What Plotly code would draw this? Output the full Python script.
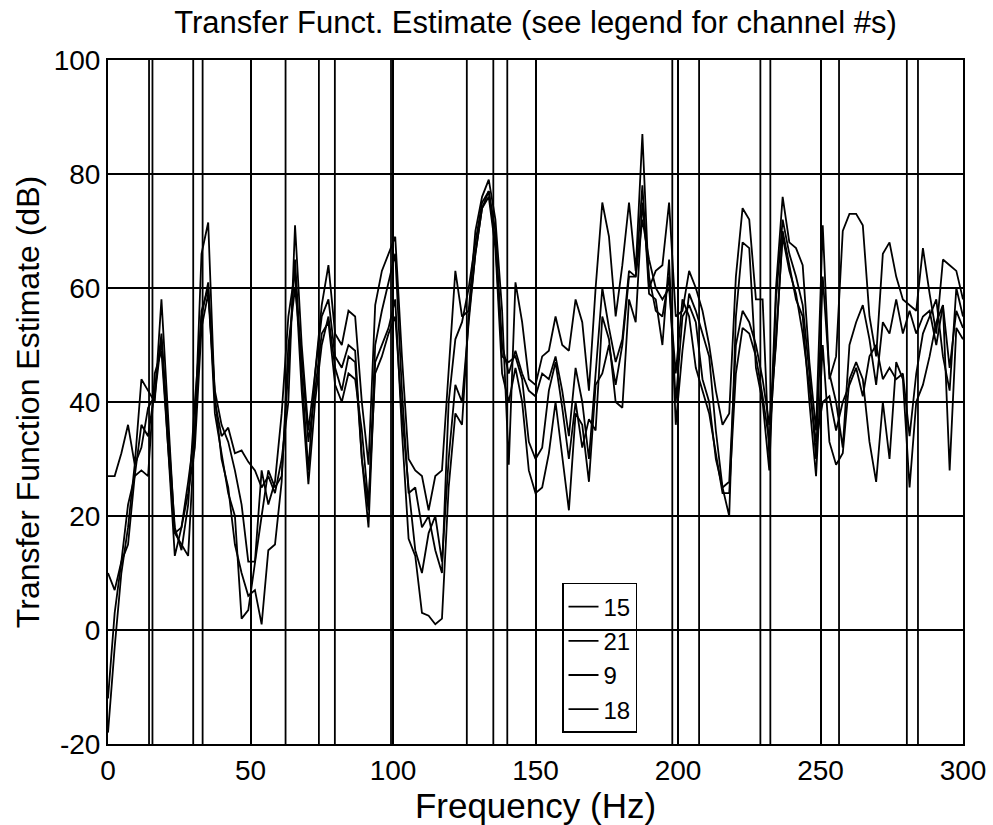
import plotly.graph_objects as go

# ---------------- data ----------------
FREQ_STEP = 2.34375          # Hz between spectral lines
N_POINTS = 129               # 0 .. 300 Hz
channels = ["15", "21", "9", "18"]

ch15 = [27, 27, 31, 36, 29, 44, 42, 40, 58, 38,
        17, 15, 13, 35, 66, 71.5, 40, 34, 35.5, 31,
        31.5, 29.5, 28, 25, 27, 24, 30, 40, 71, 50,
        35, 45, 57, 64, 52, 50, 56, 55, 40, 29,
        57, 63, 66, 69, 48, 30, 28, 27, 21, 27,
        28, 45, 63, 55, 56, 70, 76, 79, 72, 56,
        29, 61, 54, 44, 43, 48, 49, 55, 50, 49,
        58, 54, 42, 60, 75, 69, 55, 64, 75, 63,
        87, 60, 63, 64, 75, 55, 56, 63, 60, 56,
        50, 42, 36, 38, 62, 74, 72, 58, 58, 30,
        60, 76, 68, 67, 64, 47, 35, 71, 44, 48,
        70, 73, 73, 71, 55, 48, 66, 68, 62, 58,
        57, 56, 67, 59, 52, 65, 64, 63, 58]

ch21 = [10, 7, 12, 15, 27, 36, 34, 42, 52, 35,
        18, 14, 22, 40, 55, 61, 38, 31, 24, 20,
        2, 3.5, 12, 20, 28, 25, 27, 45, 65, 45,
        28, 45, 55, 58, 48, 46, 50, 49, 30, 21,
        50, 56, 61, 66, 42, 24, 25, 18, 20, 14,
        10, 40, 51, 54, 60, 68, 75, 77, 70, 50,
        45, 49, 45, 42, 41, 45, 44, 48, 42, 34,
        46, 40, 30, 45, 60, 53, 47, 51, 63, 62,
        78, 59, 58, 50, 65, 36, 49, 59, 56, 52,
        48, 35, 25, 20, 55, 68, 67, 46, 40, 28,
        58, 72, 66, 62, 57, 45, 30, 62, 45, 40,
        32, 50, 54, 57, 51, 43, 54, 52, 58, 52,
        56, 52, 55, 56, 50, 57, 46, 56, 53]

ch9 = [-12, 3, 12, 22, 27, 28, 27, 45, 49, 32,
       17, 18, 26, 35, 56, 60, 42, 36, 33, 28,
       22, 12, 12, 28, 22, 26, 38, 55, 63, 42,
       25.6, 40, 50, 55, 46, 42, 48, 47, 30, 18,
       47, 50, 53, 58, 35, 16, 13, 3, 2.5, 1,
       2, 25, 38, 36, 55, 66, 74, 77, 68, 48,
       47, 48, 44, 33, 30, 32, 42, 47, 39, 30,
       40, 32, 37, 35, 55, 51, 40, 39, 58, 54,
       75, 62, 56, 55, 62, 40, 55, 57, 54, 44,
       40, 30, 25, 26, 50, 56, 54, 50, 44, 36,
       50, 70, 64, 58, 55, 40, 27, 50, 33, 29,
       31, 44, 47, 44, 33, 26, 40, 30, 47, 44,
       25, 40, 43, 48, 54, 57, 28, 53, 51]

ch18 = [-18, -3, 10, 18, 29, 32, 39, 41, 51, 33,
        13, 18, 24, 32, 53, 59, 41, 30, 25, 15,
        10, 6, 7, 1, 14, 15, 26, 50, 60, 48,
        33, 42, 52, 54, 43, 40, 45, 44, 35, 22,
        45, 48, 52, 55, 38, 25, 14, 10, 17, 20,
        12, 30, 43, 40, 54, 66, 74, 76, 67, 45,
        40, 46, 40, 28, 24, 25, 31, 40, 30, 21,
        38, 36, 26, 43, 45, 50, 43, 50, 62, 62,
        72, 65, 60, 58, 60, 45, 58, 55, 46, 42,
        38, 31, 24, 24, 45, 53, 52, 48, 41, 33,
        52, 69, 63, 59, 52, 42, 33, 40, 41, 35,
        40, 43, 46, 41, 48, 50, 44, 46, 44, 45,
        34, 45, 52, 55, 58, 48, 42, 60, 55]

series = [ch15, ch21, ch9, ch18]

# vertical marker lines (Hz)
marker_freqs = [14.4, 15.6, 29.9, 33.2, 62.3, 74.0, 79.6, 99.3, 125.9,
                135.2, 140.1, 198.0, 207.4, 228.9, 232.4, 256.5, 280.3, 284.2]

x_ticks = [0, 50, 100, 150, 200, 250, 300]
x_tick_text = ["0", "50", "100", "150", "200", "250", "300"]
y_ticks = [-20, 0, 20, 40, 60, 80, 100]
y_tick_text = ["-20", "0", "20", "40", "60", "80", "100"]

freqs = [i * FREQ_STEP for i in range(N_POINTS)]
for s in series:
    assert len(s) == N_POINTS, len(s)

FONT = "Liberation Sans, Arial, sans-serif"

fig = go.Figure()
for name, vals in zip(channels, series):
    fig.add_trace(go.Scatter(x=freqs, y=vals, mode="lines", name=name,
                             line=dict(color="black", width=1.8)))

for f in marker_freqs:
    fig.add_shape(type="line", xref="x", yref="paper", x0=f, x1=f, y0=0, y1=1,
                  line=dict(color="black", width=1.8), layer="below")

fig.update_layout(
    width=993, height=825,
    margin=dict(l=108, r=30, t=60, b=81, autoexpand=False),
    paper_bgcolor="white", plot_bgcolor="white",
    font=dict(family=FONT, color="black"),
    title=dict(text="Transfer Funct. Estimate (see legend for channel #s)",
               x=0.5, xref="paper", xanchor="center",
               y=1 - 22 / 825, yref="container", yanchor="middle",
               font=dict(size=31, family=FONT, color="black")),
    showlegend=True,
    legend=dict(x=0.531, y=0.2354, xanchor="left", yanchor="top",
                bgcolor="rgba(0,0,0,0)", bordercolor="black", borderwidth=1.5,
                font=dict(size=24, family=FONT, color="black"),
                tracegroupgap=0),
)
fig.update_xaxes(range=[0, 300], tickvals=x_ticks, ticktext=x_tick_text,
                 showgrid=True, automargin=False,
                 gridcolor="black", gridwidth=1.8, zeroline=False,
                 showline=True, mirror=True, linecolor="black", linewidth=2,
                 ticks="", tickfont=dict(size=28, family=FONT),
                 title=dict(text="Frequency (Hz)", font=dict(size=35, family=FONT),
                            standoff=0))
fig.update_yaxes(range=[-20, 100], tickvals=y_ticks, ticktext=y_tick_text,
                 showgrid=True, automargin=False,
                 gridcolor="black", gridwidth=1.8, zeroline=False,
                 showline=True, mirror=True, linecolor="black", linewidth=2,
                 ticks="", tickfont=dict(size=28, family=FONT),
                 title=dict(text="Transfer Function Estimate (dB)",
                            font=dict(size=32, family=FONT), standoff=4))

fig.write_html("out.html")
